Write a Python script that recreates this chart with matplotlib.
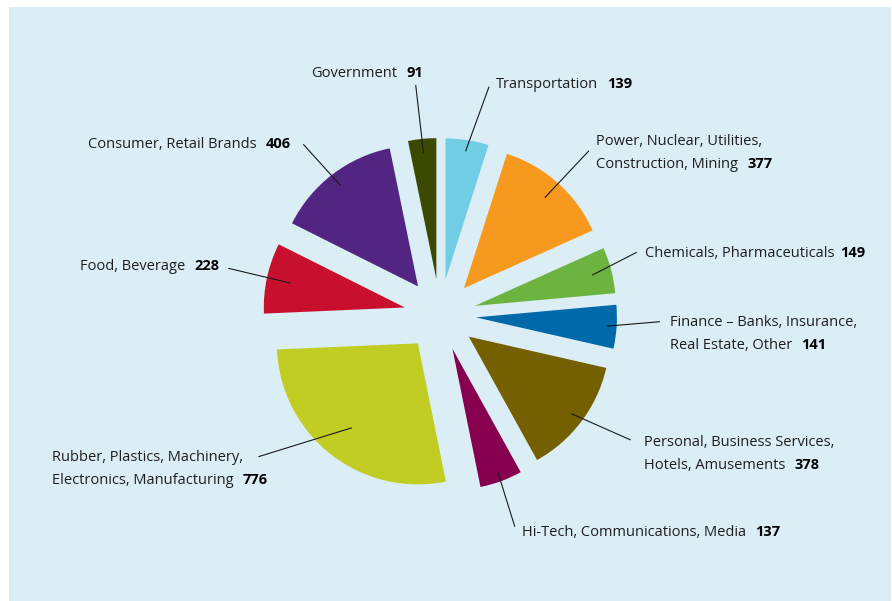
import numpy as np
import matplotlib
matplotlib.use("Agg")
import matplotlib.pyplot as plt
from matplotlib.patches import Rectangle

# ---------------- data ----------------
categories = [
    "Transportation",
    "Power, Nuclear, Utilities,\nConstruction, Mining",
    "Chemicals, Pharmaceuticals",
    "Finance – Banks, Insurance,\nReal Estate, Other",
    "Personal, Business Services,\nHotels, Amusements",
    "Hi-Tech, Communications, Media",
    "Rubber, Plastics, Machinery,\nElectronics, Manufacturing",
    "Food, Beverage",
    "Consumer, Retail Brands",
    "Government",
]
values = [139, 377, 149, 141, 378, 137, 776, 228, 406, 91]
colors = ["#70cde3", "#f7991f", "#6db33f", "#0069aa", "#746000",
          "#86004f", "#c2cd23", "#c8102e", "#522583", "#3b4a00"]

# ---------------- layout (image pixel coords, y from top) ----------------
W, H = 892, 601
PIE_CENTER = (440, 315)
PIE_RADIUS = 141
EXPLODE_PX = 36
# text anchor: (x, first baseline y, alignment)
text_pos = [
    (496, 88.3, "left"),
    (595.7, 145.0, "left"),
    (645, 257.3, "left"),
    (670, 325.6, "left"),
    (644.3, 445.6, "left"),
    (522.4, 535.6, "left"),
    (52, 460.6, "left"),
    (219, 270.0, "right"),
    (290.7, 148.3, "right"),
    (423, 77.0, "right"),
]
line_end = [
    (489, 86.7), (589, 150.7), (636.7, 252.3), (660, 321.7), (630.8, 440),
    (514.8, 526.7), (258.4, 456.7), (228.3, 268.3), (303.3, 144.3), (415.7, 85),
]
line_frac = [0.92, 0.86, 0.86, 0.93, 0.91, 0.93, 0.76, 0.83, 0.90, 0.90]
num_gap = [9, 10, 6, 9, 9, 9, 9, 9, 9, 9]
LINE_SPACING = 23.4
FONT = "Open Sans"
FS = 10.5

def Y(y):
    return H - y

fig = plt.figure(figsize=(W / 100, H / 100), dpi=100)
fig.patch.set_facecolor("white")
ax = fig.add_axes([0, 0, 1, 1])

ax.add_patch(Rectangle((9, 0), W - 10, H - 7, facecolor="#dbeef6",
                       edgecolor="none", zorder=0))

wedges, _ = ax.pie(values, colors=colors, startangle=90, counterclock=False,
                   radius=PIE_RADIUS, center=(PIE_CENTER[0], Y(PIE_CENTER[1])),
                   explode=[EXPLODE_PX] * len(values),
                   wedgeprops=dict(linewidth=0, edgecolor="none"))
ax.set_xlim(0, W)
ax.set_ylim(0, H)
ax.set_aspect("auto")
ax.axis("off")

# leader lines
for w, f, (ex, ey) in zip(wedges, line_frac, line_end):
    mid = np.deg2rad((w.theta1 + w.theta2) / 2)
    sx = w.center[0] + f * w.r * np.cos(mid)
    sy = w.center[1] + f * w.r * np.sin(mid)
    ax.plot([sx, ex], [sy, Y(ey)], color="#1a1a1a", lw=0.8, zorder=5,
            solid_capstyle="butt")

fig.canvas.draw()
renderer = fig.canvas.get_renderer()

for cat, val, (tx, ty, ha), gap in zip(categories, values, text_pos, num_gap):
    lines = cat.split("\n")
    for i, ln in enumerate(lines):
        by = Y(ty + i * LINE_SPACING)
        last = (i == len(lines) - 1)
        if ha == "left":
            t = ax.text(tx, by, ln, ha="left", va="baseline", fontsize=FS,
                        family=FONT, color="#1e1e1e", zorder=6)
            if last:
                bb = t.get_window_extent(renderer)
                ax.text(bb.x1 + gap, by, str(val), ha="left", va="baseline",
                        fontsize=FS, family=FONT, fontweight="bold",
                        color="black", zorder=6)
        else:
            if last:
                n = ax.text(tx, by, str(val), ha="right", va="baseline",
                            fontsize=FS, family=FONT, fontweight="bold",
                            color="black", zorder=6)
                bb = n.get_window_extent(renderer)
                ax.text(bb.x0 - gap, by, ln, ha="right", va="baseline",
                        fontsize=FS, family=FONT, color="#1e1e1e", zorder=6)
            else:
                ax.text(tx, by, ln, ha="right", va="baseline", fontsize=FS,
                        family=FONT, color="#1e1e1e", zorder=6)

fig.savefig("out.png", dpi=100, facecolor="white")
